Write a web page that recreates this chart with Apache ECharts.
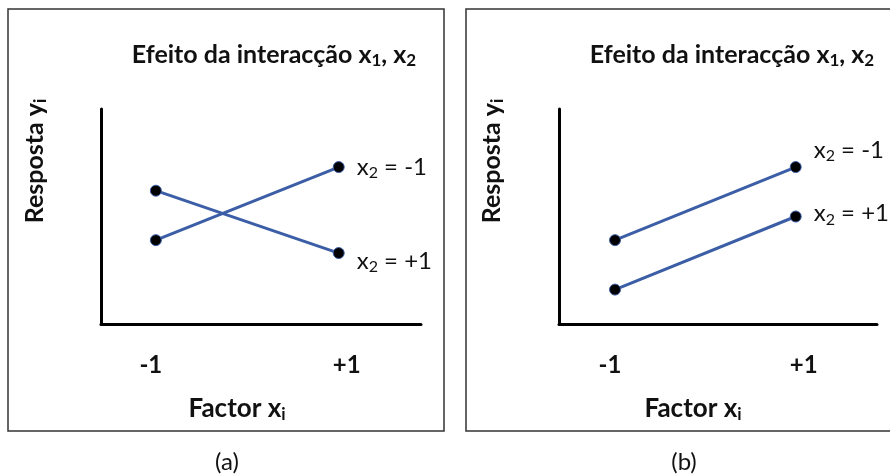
<!DOCTYPE html>
<html>
<head>
<meta charset="utf-8">
<script src="https://cdn.jsdelivr.net/npm/echarts@6/dist/echarts.min.js"></script>
<style>
  html, body { margin: 0; padding: 0; background: #fff; }
  #chart { width: 890px; height: 476px; }
</style>
</head>
<body>
<div id="chart"></div>
<script>
// Factor levels of x_i
const factorLevels = [-1, 1];
const tickLabels = ['{lo|-1}', '{hi|+1}'];

// Panel (a): response with interaction (lines cross)
const panelA_x2Minus = [3.9, 7.3];
const panelA_x2Plus = [6.2, 3.3];

// Panel (b): response without interaction (parallel lines)
const panelB_x2Minus = [3.9, 7.3];
const panelB_x2Plus = [1.6, 5.0];

const seriesLabels = ['x{s|2} = -1', 'x{s|2} = +1'];
const panelTitle = 'Efeito da interacção x{s|1}, x{s|2}';
const panelTags = ['(a)', '(b)'];

const FONT = 'Lato';
const LINE = '#3b5ea6';

const subRichBold = {
  s: { fontSize: 17, fontWeight: 'bold', fontFamily: FONT, color: '#111', padding: [12, 0, 0, 0] }
};

function pairs(vals) {
  return factorLevels.map((x, i) => [x, vals[i]]);
}

function makeSeries(idx, vals, label, labelOffset) {
  const d = pairs(vals);
  d[1] = {
    value: d[1],
    label: {
      show: true,
      position: 'right',
      distance: 12,
      offset: labelOffset,
      formatter: label,
      rich: {
        s: { fontSize: 16, fontFamily: FONT, color: '#111', padding: [12, 0, 0, 0] }
      },
      fontSize: 24,
      fontFamily: FONT,
      color: '#111'
    }
  };
  return {
    type: 'line',
    xAxisIndex: idx,
    yAxisIndex: idx,
    data: d,
    symbol: 'circle',
    symbolSize: 11,
    lineStyle: { color: LINE, width: 3 },
    itemStyle: { color: '#000', borderColor: LINE, borderWidth: 1 },
    z: 3,
    silent: true,
    animation: false
  };
}

function xAxisCfg(idx, min, max) {
  const tickFont = { fontSize: 24, fontWeight: 'bold', fontFamily: FONT, color: '#111' };
  return {
    gridIndex: idx,
    type: 'value',
    min: min,
    max: max,
    axisLine: { show: true, onZero: false, lineStyle: { color: '#000', width: 3 } },
    axisTick: { show: false },
    splitLine: { show: false },
    axisLabel: {
      customValues: factorLevels,
      formatter: v => tickLabels[factorLevels.indexOf(v)],
      margin: 29,
      ...tickFont,
      rich: {
        lo: { ...tickFont, padding: [0, 10, 0, 0] },
        hi: { ...tickFont, padding: [0, 0, 0, 16] }
      }
    }
  };
}

function yAxisCfg(idx) {
  return {
    gridIndex: idx,
    type: 'value',
    min: 0,
    max: 10,
    axisLine: { show: true, onZero: false, lineStyle: { color: '#000', width: 3 } },
    axisTick: { show: false },
    splitLine: { show: false },
    axisLabel: { show: false }
  };
}

function axisNames(cxName, cxY) {
  return [
    {
      type: 'text',
      x: cxName, y: 409,
      style: {
        text: 'Factor x{s|i}',
        x: 0, y: 0,
        align: 'center', verticalAlign: 'middle',
        font: 'bold 26px Lato', fill: '#111',
        rich: subRichBold
      }
    },
    {
      type: 'text',
      x: cxY, y: 161,
      rotation: Math.PI / 2,
      style: {
        text: 'Resposta y{s|i}',
        x: 0, y: 0,
        align: 'center', verticalAlign: 'middle',
        font: 'bold 25px Lato', fill: '#111',
        rich: subRichBold
      }
    }
  ];
}

const chart = echarts.init(document.getElementById('chart'), null, { renderer: 'canvas' });

const titleStyle = {
  fontSize: 25, fontWeight: 'bold', fontFamily: FONT, color: '#111',
  rich: { s: { fontSize: 17, fontWeight: 'bold', fontFamily: FONT, color: '#111', padding: [12, 0, 0, 0] } }
};

chart.setOption({
  animation: false,
  backgroundColor: '#fff',
  title: [
    { text: panelTitle, left: 269, top: 50, textAlign: 'center', textVerticalAlign: 'middle', textStyle: titleStyle },
    { text: panelTitle, left: 727, top: 50, textAlign: 'center', textVerticalAlign: 'middle', textStyle: titleStyle }
  ],
  grid: [
    { left: 101, right: 469, top: 109, bottom: 152 },
    { left: 559, right: 13, top: 109, bottom: 152 }
  ],
  xAxis: [xAxisCfg(0, -1.6, 1.9), xAxisCfg(1, -1.62, 1.9)],
  yAxis: [yAxisCfg(0), yAxisCfg(1)],
  series: [
    makeSeries(0, panelA_x2Minus, seriesLabels[0], [0, 0]),
    makeSeries(0, panelA_x2Plus, seriesLabels[1], [0, 8]),
    makeSeries(1, panelB_x2Minus, seriesLabels[0], [0, -17]),
    makeSeries(1, panelB_x2Plus, seriesLabels[1], [0, -3])
  ],
  graphic: [
    {
      type: 'rect', silent: true,
      shape: { x: 8, y: 9, width: 436, height: 422 },
      style: { fill: null, stroke: '#333', lineWidth: 1.5 }
    },
    {
      type: 'rect', silent: true,
      shape: { x: 466, y: 9, width: 440, height: 422 },
      style: { fill: null, stroke: '#333', lineWidth: 1.5 }
    },
    ...axisNames(237, 35),
    ...axisNames(693, 492),
    {
      type: 'text', x: 227, y: 462,
      style: { text: panelTags[0], align: 'center', verticalAlign: 'middle', font: '24px Lato', fill: '#111' }
    },
    {
      type: 'text', x: 684, y: 462,
      style: { text: panelTags[1], align: 'center', verticalAlign: 'middle', font: '24px Lato', fill: '#111' }
    }
  ]
});
</script>
</body>
</html>
